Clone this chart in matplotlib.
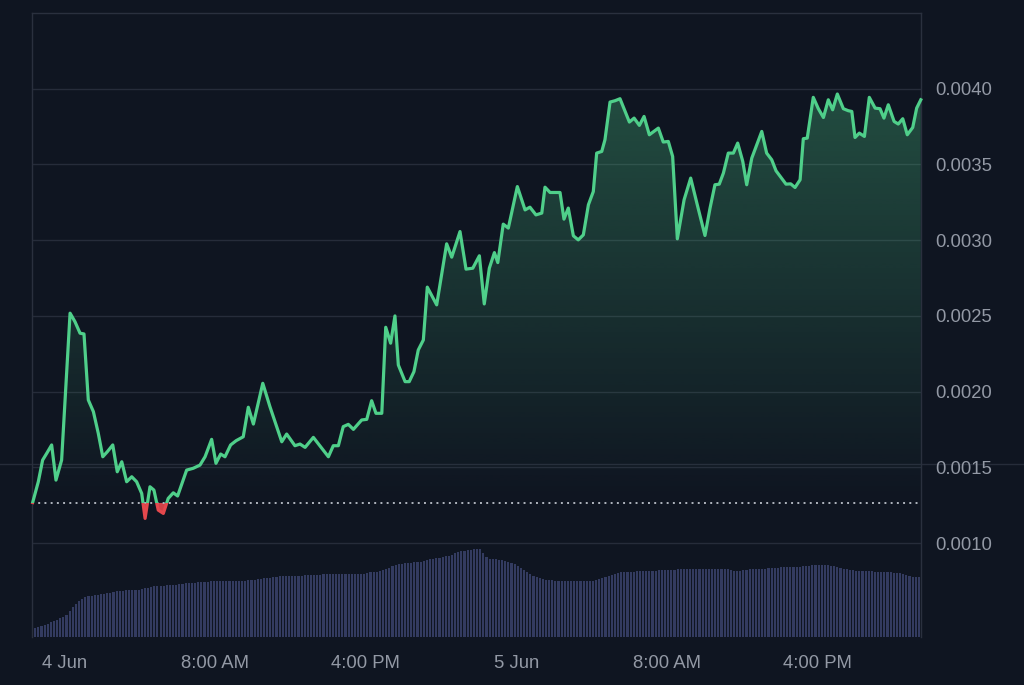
import matplotlib
matplotlib.use('Agg')
import matplotlib.pyplot as plt
import numpy as np
from matplotlib.patches import Rectangle
from matplotlib.lines import Line2D
from matplotlib.path import Path

# ---------------- data ----------------
# hours since 4 Jun 00:00
price_hours = [
    -1.72, -1.42, -1.19, -0.97, -0.71, -0.48, -0.18, 0.27, 0.53, 0.80,
    1.01, 1.24, 1.51, 1.77, 2.01, 2.25, 2.54, 2.78, 3.02, 3.28,
    3.55, 3.81, 4.08, 4.26, 4.52, 4.73, 4.96, 5.23, 5.49, 5.76,
    5.99, 6.47, 6.82,
    7.18, 7.45, 7.80, 8.03, 8.28, 8.51, 8.81, 9.10, 9.48, 9.75,
    10.02, 10.52, 10.90, 11.53, 11.79, 12.23, 12.50, 12.77, 13.21, 14.01,
    14.27, 14.54, 14.80, 15.07, 15.34, 15.78, 16.05, 16.31, 16.54, 16.85,
    17.06, 17.32, 17.55,
    17.73, 18.09, 18.31, 18.56, 18.79, 19.06, 19.27, 19.77, 20.30, 20.57,
    21.01, 21.33, 21.69, 22.04, 22.30, 22.57, 22.84, 23.02, 23.31, 23.58,
    24.06, 24.47, 24.73, 25.05, 25.36, 25.53, 25.80, 26.33, 26.54, 26.77,
    27.04, 27.30, 27.57, 27.84,
    28.10, 28.28, 28.55, 28.72, 28.99, 29.26, 29.52, 29.79, 30.02, 30.27,
    30.55, 30.80, 31.08, 31.56, 31.82, 32.09, 32.32, 32.57, 32.93, 33.28,
    33.63, 34.04, 34.31, 34.57, 34.80, 35.02, 35.28, 35.55, 35.78, 36.05,
    36.26, 36.53, 37.06, 37.32, 37.59, 37.82,
    38.35, 38.60, 38.83, 39.10, 39.27, 39.48, 39.80, 40.07, 40.34, 40.60,
    40.83, 41.08, 41.40, 41.66, 41.85, 42.02, 42.25, 42.52, 42.78, 43.09,
    43.35, 43.56, 43.79, 44.10, 44.32, 44.56, 44.80, 45.09, 45.30, 45.52,
]
price_values = [
    0.001268, 0.001405, 0.001548, 0.001593, 0.001648, 0.001416, 0.001548, 0.002518, 0.002462, 0.002386,
    0.002381, 0.001945, 0.001868, 0.001725, 0.001570, 0.001603, 0.001648, 0.001471, 0.001537, 0.001405,
    0.001438, 0.001405, 0.001328, 0.001163, 0.001372, 0.001350, 0.001218, 0.001196, 0.001295, 0.001332,
    0.001311, 0.001482, 0.001494,
    0.001515, 0.001570, 0.001685, 0.001527, 0.001588, 0.001570, 0.001648, 0.001676, 0.001702, 0.001897,
    0.001786, 0.002055, 0.001901, 0.001669, 0.001720, 0.001643, 0.001654, 0.001632, 0.001698, 0.001570,
    0.001643, 0.001643, 0.001769, 0.001784, 0.001751, 0.001813, 0.001817, 0.001940, 0.001857, 0.001857,
    0.002425, 0.002320, 0.002500,
    0.002176, 0.002066, 0.002066, 0.002132, 0.002275, 0.002341, 0.002690, 0.002573, 0.002976, 0.002888,
    0.003057, 0.002809, 0.002815, 0.002897, 0.002579, 0.002815, 0.002918, 0.002852, 0.003106, 0.003080,
    0.003354, 0.003200, 0.003218, 0.003167, 0.003179, 0.003350, 0.003315, 0.003315, 0.003139, 0.003212,
    0.003029, 0.003002, 0.003035, 0.003234,
    0.003321, 0.003575, 0.003586, 0.003663, 0.003912, 0.003921, 0.003934, 0.003850, 0.003780, 0.003806,
    0.003758, 0.003817, 0.003696, 0.003740, 0.003648, 0.003652, 0.003553, 0.003009, 0.003267, 0.003410,
    0.003234, 0.003031, 0.003212, 0.003366, 0.003370, 0.003443, 0.003575, 0.003575, 0.003641, 0.003520,
    0.003366, 0.003542, 0.003718, 0.003575, 0.003531, 0.003458,
    0.003370, 0.003372, 0.003348, 0.003399, 0.003670, 0.003674, 0.003943, 0.003868, 0.003810, 0.003927,
    0.003861, 0.003965, 0.003868, 0.003855, 0.003850, 0.003678, 0.003707, 0.003685, 0.003943, 0.003872,
    0.003868, 0.003806, 0.003894, 0.003784, 0.003767, 0.003802, 0.003696, 0.003744, 0.003872, 0.003927,
]
baseline_price = 0.001265

# volume bars: one every 10 minutes starting at 3 Jun 22:15 (arbitrary units)
vol_start_hour = -1.75
vol_step_hours = 1.0 / 6.0
volume = [
    9, 9, 10, 11, 12, 13, 15, 16, 17, 19,
    20, 22, 26, 30, 33, 36, 38, 40, 41, 41,
    42, 42, 43, 43, 44, 44, 45, 46, 46, 46,
    47, 47, 47, 47, 47, 48, 49, 49, 50, 51,
    51, 51, 51, 52, 52, 52, 52, 53, 53, 54,
    54, 54, 54, 55, 55, 55, 55, 56, 56, 56,
    56, 56, 56, 56, 56, 56, 56, 56, 56, 57,
    57, 57, 58, 58, 59, 59, 59, 60, 60, 61,
    61, 61, 61, 61, 61, 61, 61, 62, 62, 62,
    62, 62, 62, 63, 63, 63, 63, 63, 63, 63,
    63, 63, 63, 63, 63, 63, 63, 64, 65, 65,
    65, 66, 67, 68, 69, 71, 72, 73, 73, 74,
    74, 74, 75, 75, 75, 76, 77, 78, 78, 79,
    79, 80, 81, 81, 82, 84, 85, 86, 86, 87,
    87, 88, 88, 88, 84, 80, 78, 78, 78, 77,
    77, 76, 75, 74, 73, 71, 69, 67, 65, 63,
    61, 60, 59, 58, 57, 57, 57, 56, 56, 56,
    56, 56, 56, 56, 56, 56, 56, 56, 56, 56,
    57, 58, 59, 60, 61, 62, 63, 64, 65, 65,
    65, 65, 65, 66, 66, 66, 66, 66, 66, 66,
    67, 67, 67, 67, 67, 67, 68, 68, 68, 68,
    68, 68, 68, 68, 68, 68, 68, 68, 68, 68,
    68, 68, 68, 67, 66, 66, 66, 67, 67, 68,
    68, 68, 68, 68, 68, 69, 69, 69, 69, 70,
    70, 70, 70, 70, 70, 70, 71, 71, 71, 72,
    72, 72, 72, 72, 72, 71, 71, 70, 69, 68,
    68, 67, 67, 66, 66, 66, 66, 66, 66, 65,
    65, 65, 65, 65, 65, 64, 64, 64, 63, 62,
    61, 60, 60, 60,
]

x_tick_hours = [0, 8, 16, 24, 32, 40]
x_tick_labels = ['4 Jun', '8:00 AM', '4:00 PM', '5 Jun', '8:00 AM', '4:00 PM']
y_ticks = [0.0010, 0.0015, 0.0020, 0.0025, 0.0030, 0.0035, 0.0040]
y_tick_labels = ['0.0010', '0.0015', '0.0020', '0.0025', '0.0030', '0.0035', '0.0040']

# ---------------- style ----------------
BG = '#0f1521'
GRID = '#262c3a'
SPINE = '#2a303e'
TXT = '#9399a5'
GREEN = '#4fcf8a'
RED = '#e5484d'
BAR = '#333b60'

plt.rcParams['font.family'] = ['Liberation Sans', 'DejaVu Sans']

XMIN, XMAX = -1.755, 45.53
YMIN, YMAX = 0.00038, 0.0045

fig = plt.figure(figsize=(10.24, 6.85), dpi=100, facecolor=BG)
ax = fig.add_axes([0.03125, 0.07007, 0.86816, 0.91095])
axv = ax.twinx()
axv.set_zorder(1)
ax.set_zorder(2)
ax.patch.set_visible(False)
axv.patch.set_visible(False)

# figure-wide faint horizontal line
fig.add_artist(Line2D([0, 1], [1 - 464 / 685, 1 - 464 / 685], transform=fig.transFigure,
                      color=GRID, lw=1, zorder=0.5))

# volume bars
t_vol = vol_start_hour + vol_step_hours * np.arange(len(volume))
axv.bar(t_vol, volume, width=vol_step_hours * 0.68, color=BAR, linewidth=0, align='center')
axv.set_ylim(0, 624)
axv.set_yticks([])
for s in axv.spines.values():
    s.set_visible(False)

t = np.array(price_hours)
p = np.array(price_values)

# gradient fill between line and baseline (above)
poly = ax.fill_between(t, p, baseline_price, where=p >= baseline_price, interpolate=True,
                       facecolor='none', edgecolor='none')
paths = poly.get_paths()
clip = Path.make_compound_path(*paths)
n = 256
alphas = np.linspace(0.0, 0.36, n)
grad = np.zeros((n, 1, 4))
grad[:, 0, 0] = 0x4f / 255
grad[:, 0, 1] = 0xcf / 255
grad[:, 0, 2] = 0x8a / 255
grad[:, 0, 3] = alphas
im = ax.imshow(grad, extent=[XMIN, XMAX, baseline_price, YMAX], origin='lower',
               aspect='auto', interpolation='bilinear', zorder=2)
im.set_clip_path(clip, transform=ax.transData)

# red fill below baseline
ax.fill_between(t, p, baseline_price, where=p < baseline_price, interpolate=True,
                color=RED, alpha=0.9, linewidth=0, zorder=2.5)

# line, green above baseline, red below
l_g, = ax.plot(t, p, color=GREEN, lw=2.3, solid_joinstyle='round', zorder=4)
l_g.set_clip_path(Rectangle((XMIN - 5, baseline_price), XMAX - XMIN + 10, 1.0, transform=ax.transData))
l_r, = ax.plot(t, p, color=RED, lw=2.3, solid_joinstyle='round', zorder=4)
l_r.set_clip_path(Rectangle((XMIN - 5, baseline_price - 1.0), XMAX - XMIN + 10, 1.0, transform=ax.transData))

# dotted baseline
ax.axhline(baseline_price, color='#b0b5be', lw=1.4, ls=(0, (1, 2.2)), zorder=3)

ax.set_xlim(XMIN, XMAX)
ax.set_ylim(YMIN, YMAX)

ax.yaxis.tick_right()
ax.set_yticks(y_ticks, y_tick_labels)
ax.set_xticks(x_tick_hours, x_tick_labels)
ax.tick_params(axis='y', length=0, pad=10, labelcolor=TXT, labelsize=13.3)
ax.tick_params(axis='x', length=0, pad=13, labelcolor=TXT, labelsize=13.3)
ax.set_axisbelow(True)
ax.grid(axis='y', color=GRID, lw=1)
ax.grid(axis='x', visible=False)

for name, s in ax.spines.items():
    s.set_color(SPINE)
    s.set_linewidth(1)
ax.spines['bottom'].set_visible(False)

fig.savefig('out.png', dpi=100, facecolor=BG)
